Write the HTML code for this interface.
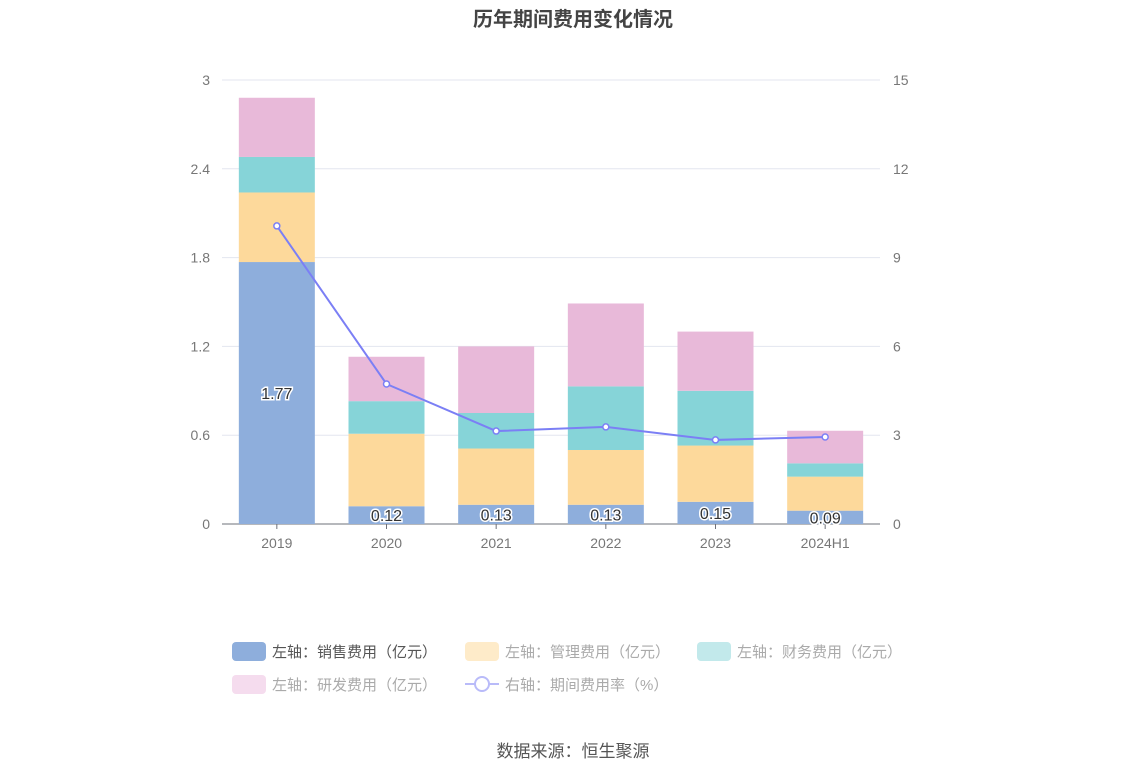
<!DOCTYPE html>
<html><head><meta charset="utf-8"><style>
body{margin:0;background:#fff;}
svg{display:block;font-family:"Liberation Sans","Noto Sans CJK SC",sans-serif;}
</style></head><body>
<svg id="chart" width="1147" height="776">
<text x="573" y="26" text-anchor="middle" font-size="20" font-weight="bold" fill="#444">历年期间费用变化情况</text>
<g id="grid"></g><g id="bars"></g><g id="line"></g><g id="labels"></g>
<g font-size="15">
<g><rect x="232" y="642" width="34" height="19" rx="4" fill="#8eaedc"/><text x="272" y="657" fill="#555">左轴：销售费用（亿元）</text></g>
<g><rect x="465" y="642" width="34" height="19" rx="4" fill="#feebc9"/><text x="505" y="657" fill="#aaa">左轴：管理费用（亿元）</text></g>
<g><rect x="697" y="642" width="34" height="19" rx="4" fill="#c2e9eb"/><text x="737" y="657" fill="#aaa">左轴：财务费用（亿元）</text></g>
<g><rect x="232" y="675" width="34" height="19" rx="4" fill="#f5dcee"/><text x="272" y="690" fill="#aaa">左轴：研发费用（亿元）</text></g>
<g><line x1="465" y1="684" x2="499" y2="684" stroke="#b9bbf9" stroke-width="2"/><circle cx="482" cy="684" r="7" fill="#fff" stroke="#b9bbf9" stroke-width="2"/><text x="505" y="690" fill="#aaa">右轴：期间费用率（%）</text></g>
</g>
<text x="573" y="757" text-anchor="middle" font-size="17" fill="#555">数据来源：恒生聚源</text>
</svg>
<script>
const categories=["2019","2020","2021","2022","2023","2024H1"];
const sales=[1.77,0.12,0.13,0.13,0.15,0.09];
const management=[0.47,0.49,0.38,0.37,0.38,0.23];
const finance=[0.24,0.22,0.24,0.43,0.37,0.09];
const rnd=[0.40,0.30,0.45,0.56,0.40,0.22];
const rate=[10.07,4.73,3.14,3.28,2.84,2.94];
const leftTicks=["0","0.6","1.2","1.8","2.4","3"];
const rightTicks=["0","3","6","9","12","15"];
const NS="http://www.w3.org/2000/svg";
const x0=222,x1=880,yB=524,yT=80;
const yL=v=>yB-(v/3)*(yB-yT), yR=v=>yB-(v/15)*(yB-yT);
const band=(x1-x0)/categories.length, xc=i=>x0+band*(i+0.5), bw=76;
function mk(t,a,p){const e=document.createElementNS(NS,t);for(const k in a)e.setAttribute(k,a[k]);p.appendChild(e);return e;}
const grid=document.getElementById('grid');
leftTicks.forEach((t,i)=>{const y=yL(+t);
 if(i>0){const l=mk('line',{x1:x0,x2:x1,y1:y,y2:y,stroke:'#e3e6ef'},grid);}
 const a=mk('text',{x:210,y:y+5,'text-anchor':'end','font-size':14,fill:'#777'},grid);a.textContent=t;
 const b=mk('text',{x:893,y:yR(+rightTicks[i])+5,'font-size':14,fill:'#777'},grid);b.textContent=rightTicks[i];});
const ax=mk('line',{x1:x0,x2:x1,y1:yB,y2:yB,stroke:'#6e7079'},grid);
categories.forEach((c,i)=>{mk('line',{x1:xc(i),x2:xc(i),y1:yB,y2:yB+5,stroke:'#6e7079'},grid);
 const t=mk('text',{x:xc(i),y:548,'text-anchor':'middle','font-size':14,fill:'#777'},grid);t.textContent=c;});
const bars=document.getElementById('bars'),labels=document.getElementById('labels');
const series=[[sales,'#8eaedc','sales'],[management,'#fdd99b','management'],[finance,'#86d4d8','finance'],[rnd,'#e8b9d9','rnd']];
categories.forEach((c,i)=>{let acc=0;series.forEach(([arr,col,n])=>{const y1=yL(acc),y2=yL(acc+arr[i]);
 const r=mk('rect',{x:xc(i)-bw/2,y:y2,width:bw,height:y1-y2,fill:col},bars);acc+=arr[i];});
 const t=mk('text',{x:xc(i),y:(yL(0)+yL(sales[i]))/2+6,'text-anchor':'middle','font-size':16,fill:'#333',stroke:'#fff','stroke-width':3,'paint-order':'stroke'},labels);t.textContent=sales[i].toFixed(2);});
const lg=document.getElementById('line');
const pl=mk('polyline',{points:rate.map((v,i)=>xc(i)+','+yR(v)).join(' '),fill:'none',stroke:'#7b7ff5','stroke-width':2},lg);
rate.forEach((v,i)=>{const p=mk('circle',{cx:xc(i),cy:yR(v),r:3,fill:'#fff',stroke:'#7b7ff5','stroke-width':1.5},lg);});
</script>
</body></html>
